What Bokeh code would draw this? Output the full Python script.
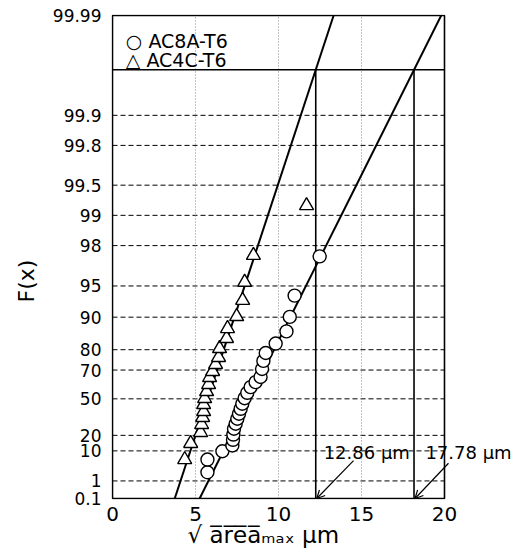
import numpy as np
from bokeh.plotting import figure
from bokeh.models import (FixedTicker, Label, Arrow, OpenHead, Range1d, Title,
                          CustomJSTickFormatter)
from bokeh.embed import file_html
from bokeh.resources import INLINE

# ---------------- data ----------------
y_ticks_pct = [0.1, 1, 10, 20, 50, 70, 80, 90, 95, 98, 99, 99.5, 99.8, 99.9, 99.99]
y_tick_labels = ["0.1", "1", "10", "20", "50", "70", "80", "90", "95", "98",
                 "99", "99.5", "99.8", "99.9", "99.99"]
x_ticks = [0, 5, 10, 15, 20]

ac8a_x = [5.72, 5.72, 6.62, 7.22, 7.26, 7.28, 7.32, 7.42, 7.52, 7.62, 7.72, 7.82,
          7.96, 8.12, 8.32, 8.62, 8.92, 9.01, 9.09, 9.23, 9.83, 10.48, 10.68, 10.97, 12.48]
ac8a_F = [2.3, 6.0, 9.8, 13.1, 16.8, 20.6, 25.1, 29.2, 33.4, 37.6, 41.8, 46.0,
          50.5, 54.7, 58.9, 62.4, 65.8, 70.6, 74.9, 78.6, 82.4, 86.4, 90.06, 93.8, 97.44]

ac4c_x = [4.35, 4.71, 5.31, 5.37, 5.43, 5.49, 5.49, 5.55, 5.67, 5.79, 5.85, 6.03,
          6.21, 6.39, 6.45, 6.87, 6.93, 7.48, 7.84, 7.96, 8.49, 11.69]
ac4c_F = [6.0, 14.4, 22.2, 28.6, 34.5, 39.5, 45.4, 50.3, 55.7, 60.8, 65.5, 69.2,
          73.1, 76.6, 80.5, 84.2, 87.2, 90.15, 93.1, 95.4, 97.5, 99.2]

fit_F = [0.1, 99.99]
ac8a_fit_x = [5.25, 19.80]
ac4c_fit_x = [3.75, 13.32]
box_F = 99.965
pred_values = ["12.86", "17.78"]

x_title = "\u221a a\u0305r\u0305e\u0305a\u0305\u2098\u2090\u2093 \u03bcm"
y_title = "F(x)"


def gumbel(F):
    return -np.log(-np.log(np.asarray(F, dtype=float) / 100.0))


FONT = "DejaVu Sans"
x_lo, x_hi = float(x_ticks[0]), float(x_ticks[-1])
y_lo, y_hi = float(gumbel(y_ticks_pct[0])), float(gumbel(y_ticks_pct[-1]))
y_box = float(gumbel(box_F))

px_x = 16.6
px_y = 43.35
pad_y = 1.0 / px_y
p = figure(width=521, height=549, output_backend="svg", toolbar_location=None,
           x_range=Range1d(x_lo - 0.06, x_lo - 0.06 + 410 / px_x),
           y_range=Range1d(y_lo - pad_y, y_hi + pad_y),
           min_border_left=111, min_border_right=0, min_border_top=14,
           min_border_bottom=50)
p.background_fill_color = "white"
p.border_fill_color = "white"
p.outline_line_color = None
p.xgrid.visible = False
p.ygrid.visible = False

# axes
yt = [float(v) for v in gumbel(y_ticks_pct)]
p.yaxis.ticker = FixedTicker(ticks=yt)
p.yaxis.formatter = CustomJSTickFormatter(
    args=dict(vals=yt, labs=y_tick_labels),
    code="for (let i = 0; i < vals.length; i++) { if (Math.abs(vals[i] - tick) < 1e-6) return labs[i]; } return '';")
p.xaxis.ticker = FixedTicker(ticks=x_ticks)
p.xaxis.bounds = (x_lo, x_hi)
for ax in (p.xaxis, p.yaxis):
    ax.axis_line_color = None
    ax.major_tick_line_color = None
    ax.minor_tick_line_color = None
    ax.major_tick_out = 0
    ax.major_tick_in = 0
    ax.major_label_text_font = FONT
    ax.major_label_text_color = "black"
p.yaxis.major_label_text_font_size = "17px"
p.yaxis.major_label_standoff = 10
p.xaxis.major_label_text_font_size = "20px"
p.xaxis.major_label_standoff = 7

# axis titles as side-panel titles (so they can be offset like the original)
p.add_layout(Title(text=x_title, align="left", offset=76, standoff=-8, text_font=FONT,
                   text_font_size="23px", text_font_style="normal", text_color="black"),
             "below")
p.add_layout(Title(text=y_title, align="left", offset=197, standoff=22, text_font=FONT,
                   text_font_size="22px", text_font_style="normal", text_color="black"),
             "left")

# grid lines (within the plotting box only)
inner_y = yt[1:-1]
p.segment(x0=[x_lo] * len(inner_y), y0=inner_y, x1=[x_hi] * len(inner_y), y1=inner_y,
          line_color="black", line_width=1, line_dash="5 3")
inner_x = [float(v) for v in x_ticks[1:-1]]
p.segment(x0=inner_x, y0=[y_lo] * len(inner_x), x1=inner_x, y1=[y_hi] * len(inner_x),
          line_color="#8a8a8a", line_width=1, line_dash="1 2")

# plotting box and legend box line
p.quad(left=[x_lo], right=[x_hi], bottom=[y_lo], top=[y_hi], fill_color=None,
       line_color="black", line_width=1.6)
p.segment(x0=[x_lo], y0=[y_box], x1=[x_hi], y1=[y_box], line_color="black", line_width=1.6)

# fitted lines
fy = gumbel(fit_F)
p.line(ac8a_fit_x, fy, line_color="black", line_width=2)
p.line(ac4c_fit_x, fy, line_color="black", line_width=2)


def x_at(xs, yv):
    return xs[0] + (xs[1] - xs[0]) * (yv - fy[0]) / (fy[1] - fy[0])


drop_x = [x_at(ac4c_fit_x, y_box), x_at(ac8a_fit_x, y_box)]
p.segment(x0=drop_x, y0=[y_lo] * 2, x1=drop_x, y1=[y_box] * 2,
          line_color="black", line_width=1.6)

# data points
p.scatter(ac8a_x, gumbel(ac8a_F), marker="circle", size=13, fill_color="white",
          line_color="black", line_width=1.4)
p.scatter(ac4c_x, gumbel(ac4c_F), marker="triangle", size=14, fill_color="white",
          line_color="black", line_width=1.4)

# legend (text symbols)
p.add_layout(Label(x=0.8, y=8.63, text="\u25cb AC8A-T6", text_font=FONT,
                   text_font_size="19px", text_baseline="middle", text_color="black"))
p.add_layout(Label(x=0.8, y=8.19, text="\u25b3 AC4C-T6", text_font=FONT,
                   text_font_size="19px", text_baseline="middle", text_color="black"))

# prediction labels and arrows
lab_x = [12.72, 18.85]
arr_start = [(14.52, -1.06), (20.24, -1.12)]
for v, lx, (sx, sy), dx in zip(pred_values, lab_x, arr_start, drop_x):
    p.add_layout(Label(x=lx, y=-0.87, text=f"{v} \u03bcm", text_font=FONT,
                       text_font_size="18px", text_baseline="alphabetic", text_color="black"))
    p.add_layout(Arrow(end=OpenHead(size=8, line_width=1.2, line_color="black"),
                       x_start=sx, y_start=sy, x_end=dx + 0.06, y_end=y_lo,
                       line_color="black", line_width=1.2))

open("out.html", "w").write(file_html(p, INLINE))
